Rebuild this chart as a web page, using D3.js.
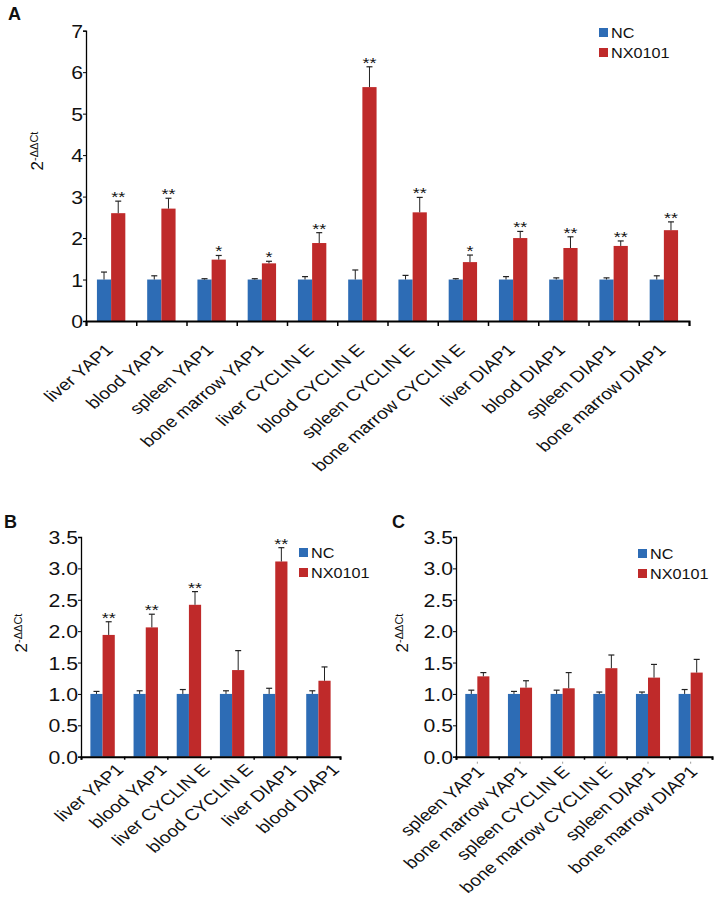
<!DOCTYPE html>
<html>
<head>
<meta charset="utf-8">
<script src="https://cdn.jsdelivr.net/npm/d3@7"></script>
<style>
  body { margin: 0; background: #fff; }
  text { font-family: Arial, "Liberation Sans", Helvetica, sans-serif; fill: #111; }
</style>
</head>
<body>
<div id="chart"></div>
<script>
// ---- data ----
var seriesNames = ['NC', 'NX0101'];
var seriesColors = ['#2D6CB5', '#BF2A2A'];

// panel A
var catsA = ['liver YAP1', 'blood YAP1', 'spleen YAP1', 'bone marrow YAP1',
  'liver CYCLIN E', 'blood CYCLIN E', 'spleen CYCLIN E', 'bone marrow CYCLIN E',
  'liver DIAP1', 'blood DIAP1', 'spleen DIAP1', 'bone marrow DIAP1'];
var ncA = [1, 1, 1, 1, 1, 1, 1, 1, 1, 1, 1, 1];
var ncErrA = [0.18, 0.09, 0.02, 0.02, 0.07, 0.23, 0.10, 0.02, 0.07, 0.04, 0.04, 0.09];
var nxA = [2.60, 2.71, 1.48, 1.39, 1.88, 5.64, 2.62, 1.42, 2.00, 1.76, 1.81, 2.19];
var nxErrA = [0.29, 0.25, 0.10, 0.05, 0.25, 0.49, 0.36, 0.17, 0.16, 0.27, 0.12, 0.20];
var sigA = ['**', '**', '*', '*', '**', '**', '**', '*', '**', '**', '**', '**'];
var ticksA = [0, 1, 2, 3, 4, 5, 6, 7];

// panel B
var catsB = ['liver YAP1', 'blood YAP1', 'liver CYCLIN E', 'blood CYCLIN E', 'liver DIAP1', 'blood DIAP1'];
var ncB = [1, 1, 1, 1, 1, 1];
var ncErrB = [0.04, 0.05, 0.07, 0.05, 0.09, 0.05];
var nxB = [1.94, 2.06, 2.42, 1.38, 3.11, 1.21];
var nxErrB = [0.21, 0.21, 0.21, 0.31, 0.22, 0.22];
var sigB = ['**', '**', '**', '', '**', ''];

// panel C
var catsC = ['spleen YAP1', 'bone marrow YAP1', 'spleen CYCLIN E', 'bone marrow CYCLIN E', 'spleen DIAP1', 'bone marrow DIAP1'];
var ncC = [1, 1, 1, 1, 1, 1];
var ncErrC = [0.06, 0.04, 0.06, 0.03, 0.03, 0.07];
var nxC = [1.28, 1.10, 1.09, 1.41, 1.26, 1.34];
var nxErrC = [0.06, 0.11, 0.25, 0.21, 0.21, 0.21];
var sigC = ['', '', '', '', '', ''];

var ticksBC = [0, 0.5, 1, 1.5, 2, 2.5, 3, 3.5];

var svg = d3.select('#chart').append('svg')
  .attr('width', 717)
  .attr('height', 921);

svg.append('rect').attr('width', 717).attr('height', 921).attr('fill', '#fff');

// draws one bar panel
function drawPanel(p) {
  var n = p.cats.length;

  var x0 = d3.scaleBand()
    .domain(p.cats)
    .range([p.x0, p.x1])
    .paddingInner(0.435)
    .paddingOuter(0.2175);

  var x1 = d3.scaleBand()
    .domain(seriesNames)
    .range([0, x0.bandwidth()]);

  var y = d3.scaleLinear()
    .domain([0, p.yMax])
    .range([p.yBase, p.yTop]);

  // rows: one per category
  var rows = p.cats.map(function(c, i) {
    return {
      cat: c,
      vals: [
        { s: 'NC', v: p.nc[i], e: p.ncErr[i] },
        { s: 'NX0101', v: p.nx[i], e: p.nxErr[i] }
      ],
      sig: p.sig[i]
    };
  });

  var g = svg.append('g');

  var groups = g.selectAll('g.cat').data(rows)
    .enter().append('g')
    .attr('class', 'cat')
    .attr('transform', function(d) { return 'translate(' + x0(d.cat) + ',0)'; });

  groups.selectAll('rect').data(function(d) { return d.vals; })
    .enter().append('rect')
    .attr('x', function(d) { return x1(d.s); })
    .attr('y', function(d) { return y(d.v); })
    .attr('width', x1.bandwidth())
    .attr('height', function(d) { return y(0) - y(d.v); })
    .attr('fill', function(d, i) { return seriesColors[i]; });

  // error bars (upper only)
  var err = groups.selectAll('g.err').data(function(d) { return d.vals; })
    .enter().append('g')
    .attr('class', 'err')
    .attr('transform', function(d) { return 'translate(' + (x1(d.s) + x1.bandwidth() / 2) + ',0)'; });
  err.append('line')
    .attr('x1', 0).attr('x2', 0)
    .attr('y1', function(d) { return y(d.v); })
    .attr('y2', function(d) { return y(d.v + d.e); })
    .attr('stroke', '#222').attr('stroke-width', 1);
  err.append('line')
    .attr('x1', -3).attr('x2', 3)
    .attr('y1', function(d) { return y(d.v + d.e); })
    .attr('y2', function(d) { return y(d.v + d.e); })
    .attr('stroke', '#222').attr('stroke-width', 1.2);

  // significance stars above NX0101 bars
  groups.append('text')
    .attr('transform', function(d) {
      var v = d.vals[1];
      return 'translate(' + (x1('NX0101') + x1.bandwidth() / 2) + ',' + (y(v.v + v.e) + 1) + ') scale(1.2,1)';
    })
    .attr('text-anchor', 'middle')
    .style('font-size', '15px')
    .text(function(d) { return d.sig; });

  // y axis
  var yAxis = d3.axisLeft(y)
    .tickValues(p.ticks)
    .tickSize(3)
    .tickPadding(0)
    .tickFormat(p.fmt);
  var yG = g.append('g')
    .attr('transform', 'translate(' + p.x0 + ',0)')
    .call(yAxis);
  yG.select('.domain').attr('stroke', '#000').attr('stroke-width', 1.3);
  yG.selectAll('.tick line').attr('stroke', '#000');
  yG.selectAll('.tick text')
    .attr('x', 0)
    .attr('dy', '0.36em')
    .attr('transform', 'translate(-3,0) scale(1.18,1)')
    .style('font-size', '18px')
    .style('font-family', 'Arial, "Liberation Sans", sans-serif')
    .attr('fill', '#111');

  // x axis: boundary ticks
  var xb = d3.scaleLinear().domain([0, n]).range([p.x0, p.x1]);
  var xbAxis = d3.axisBottom(xb)
    .tickValues(d3.range(n + 1))
    .tickSize(p.xTick)
    .tickFormat('');
  var xbG = g.append('g')
    .attr('transform', 'translate(0,' + p.yBase + ')')
    .call(xbAxis);
  xbG.select('.domain').attr('stroke', '#000').attr('stroke-width', 2);
  xbG.selectAll('.tick line').attr('stroke', '#000').attr('stroke-width', 1.5);

  // faint marks under the category centres (panel C only)
  if (p.centreMarks) {
    var cm = g.append('g')
      .attr('transform', 'translate(0,' + (p.yBase + 5) + ')')
      .call(d3.axisBottom(x0).tickSize(2).tickFormat(''));
    cm.select('.domain').remove();
    cm.selectAll('.tick line').attr('stroke', '#999');
  }

  // x axis: category labels
  var xAxis = d3.axisBottom(x0).tickSize(0);
  var xG = g.append('g')
    .attr('transform', 'translate(0,' + p.yBase + ')')
    .call(xAxis);
  xG.select('.domain').remove();
  xG.selectAll('.tick text')
    .attr('x', 0).attr('y', 0).attr('dy', 0)
    .attr('text-anchor', 'end')
    .attr('transform', 'translate(' + p.labDx + ',' + p.labDy + ') scale(1.2,1) rotate(-45)')
    .style('font-size', '16px')
    .style('font-family', 'Arial, "Liberation Sans", sans-serif')
    .attr('fill', '#111');

  // y title: 2^-ΔΔCt
  var yt = g.append('text')
    .attr('transform', 'translate(' + p.ytX + ',' + p.ytY + ') rotate(-90)')
    .attr('text-anchor', 'middle')
    .style('font-size', '17px');
  yt.append('tspan').text('2');
  yt.append('tspan')
    .attr('dy', '-0.5em')
    .style('font-size', '11px')
    .text('-\u0394\u0394Ct');

  // panel letter
  g.append('text')
    .attr('x', p.lx).attr('y', p.ly)
    .style('font-size', '18px')
    .style('font-weight', 'bold')
    .text(p.letter);

  // legend
  var leg = g.selectAll('g.leg').data(seriesNames)
    .enter().append('g')
    .attr('class', 'leg')
    .attr('transform', function(d, i) { return 'translate(' + p.legX + ',' + (p.legY + i * 20) + ')'; });
  leg.append('rect')
    .attr('width', 9).attr('height', 9)
    .attr('fill', function(d, i) { return seriesColors[i]; });
  leg.append('text')
    .attr('transform', 'translate(12,10) scale(1.08,1)')
    .style('font-size', '15px')
    .text(function(d) { return d; });
}

var fmtA = d3.format('d');
var fmtBC = d3.format('.1f');

drawPanel({
  letter: 'A', lx: 8, ly: 20,
  cats: catsA, nc: ncA, ncErr: ncErrA, nx: nxA, nxErr: nxErrA, sig: sigA,
  x0: 86, x1: 689, yBase: 321, yTop: 30.7, yMax: 7, ticks: ticksA, fmt: fmtA,
  xTick: 5, labDx: 3, labDy: 30,
  ytX: 43, ytY: 151,
  legX: 599, legY: 28
});

drawPanel({
  letter: 'B', lx: 4, ly: 528,
  cats: catsB, nc: ncB, ncErr: ncErrB, nx: nxB, nxErr: nxErrB, sig: sigB,
  x0: 81, x1: 340, yBase: 756.7, yTop: 537, yMax: 3.5, ticks: ticksBC, fmt: fmtBC,
  xTick: 3, labDx: 22, labDy: 14,
  ytX: 27, ytY: 633,
  legX: 299, legY: 548
});

drawPanel({
  letter: 'C', lx: 392, ly: 528, centreMarks: true,
  cats: catsC, nc: ncC, ncErr: ncErrC, nx: nxC, nxErr: nxErrC, sig: sigC,
  x0: 456, x1: 712, yBase: 756.7, yTop: 537, yMax: 3.5, ticks: ticksBC, fmt: fmtBC,
  xTick: 3, labDx: 8, labDy: 16,
  ytX: 408, ytY: 633,
  legX: 638, legY: 549
});
</script>
</body>
</html>
